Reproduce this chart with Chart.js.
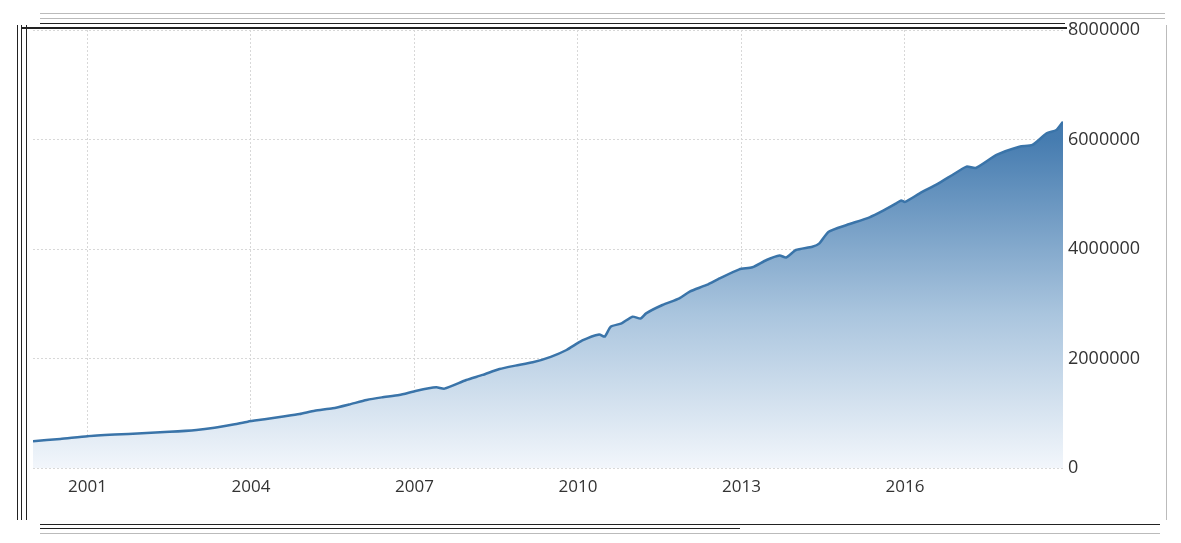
<!DOCTYPE html>
<html>
<head>
<meta charset="utf-8">
<script src="https://cdn.jsdelivr.net/npm/chart.js@4"></script>
<style>
  html, body { margin: 0; padding: 0; background: #fff; }
  #wrap { position: relative; width: 1181px; height: 543px; overflow: hidden; }
  #chart { position: absolute; left: 0; top: 0; }
  .ln { position: absolute; background: #222; }
  .lt { position: absolute; background: #bbb; }
</style>
</head>
<body>
<div id="wrap">
  <canvas id="chart" width="1181" height="543"></canvas>
  <!-- frame lines -->
  <div class="lt" style="left:40px;top:13px;width:1125px;height:1px"></div>
  <div class="lt" style="left:40px;top:18px;width:1125px;height:1px"></div>
  <div class="ln" style="left:40px;top:23px;width:1025px;height:1px"></div>
  <div class="ln" style="left:22px;top:27px;width:1045px;height:2px"></div>
  <div class="ln" style="left:17px;top:25px;width:1px;height:495px"></div>
  <div class="ln" style="left:21px;top:25px;width:1px;height:495px"></div>
  <div class="ln" style="left:26px;top:25px;width:1px;height:495px"></div>
  <div class="lt" style="left:1166px;top:25px;width:1px;height:495px"></div>
  <div class="ln" style="left:40px;top:524px;width:1120px;height:1px"></div>
  <div class="ln" style="left:40px;top:528px;width:700px;height:1px"></div>
  <div class="lt" style="left:40px;top:533px;width:1120px;height:1px"></div>
</div>
<script>
// decimal years and values
const years = [
  2000.0, 2000.5, 2001.0, 2001.5, 2002.0, 2002.5, 2003.0, 2003.33, 2003.7, 2003.94,
  2004.25, 2004.56, 2004.89, 2005.17, 2005.5, 2005.8, 2006.12, 2006.4, 2006.72, 2007.04,
  2007.4, 2007.55, 2007.95, 2008.25, 2008.56, 2008.85, 2009.17, 2009.5, 2009.79, 2010.08,
  2010.39, 2010.49, 2010.6, 2010.8, 2011.0, 2011.15, 2011.25, 2011.55, 2011.86, 2012.05,
  2012.36, 2012.6, 2012.96, 2013.2, 2013.46, 2013.7, 2013.82, 2014.0, 2014.3, 2014.43,
  2014.6, 2014.93, 2015.35, 2015.6, 2015.84, 2015.93, 2016.0, 2016.27, 2016.6, 2016.87,
  2017.13, 2017.3, 2017.68, 2018.1, 2018.34, 2018.6, 2018.78, 2018.9
];
const values = [
  490000, 530000, 580000, 610000, 635000, 660000, 695000, 736000, 800000, 846000,
  890000, 937000, 986000, 1047000, 1090000, 1160000, 1242000, 1290000, 1333000, 1412000,
  1474000, 1450000, 1607000, 1700000, 1808000, 1870000, 1930000, 2030000, 2155000, 2330000,
  2440000, 2400000, 2580000, 2642000, 2764000, 2730000, 2825000, 2977000, 3099000, 3221000,
  3343000, 3464000, 3629000, 3666000, 3799000, 3880000, 3845000, 3982000, 4042000, 4104000,
  4316000, 4438000, 4579000, 4700000, 4834000, 4885000, 4860000, 5017000, 5190000, 5352000,
  5504000, 5480000, 5717000, 5869000, 5900000, 6113000, 6174000, 6326000
];
const xTicks = [2001, 2004, 2007, 2010, 2013, 2016];
const yTicks = [0, 2000000, 4000000, 6000000, 8000000];

const points = years.map((y, i) => ({ x: y, y: values[i] }));

function areaGradient(context) {
  const chart = context.chart;
  const area = chart.chartArea;
  if (!area) return 'rgba(70,125,175,0.5)';
  const g = chart.ctx.createLinearGradient(0, area.top, 0, area.bottom);
  g.addColorStop(0, 'rgb(52,108,163)');
  g.addColorStop(0.25, 'rgb(70,124,176)');
  g.addColorStop(0.65, 'rgb(170,197,222)');
  g.addColorStop(1, 'rgb(242,246,251)');
  return g;
}

new Chart(document.getElementById('chart'), {
  type: 'line',
  data: {
    datasets: [{
      data: points,
      borderColor: '#3a74a9',
      borderWidth: 2.5,
      backgroundColor: areaGradient,
      fill: 'origin',
      pointRadius: 0,
      tension: 0.2
    }]
  },
  options: {
    responsive: false,
    animation: false,
    layout: { padding: { left: 33, top: 30, right: 0, bottom: 0 } },
    plugins: { legend: { display: false }, tooltip: { enabled: false } },
    scales: {
      x: {
        type: 'linear',
        min: 2000,
        max: 2018.9,
        afterBuildTicks: scale => { scale.ticks = xTicks.map(v => ({ value: v })); },
        afterFit: scale => { scale.height = 75; },
        grid: { color: '#d8d8d8', drawTicks: false },
        border: { display: false, dash: [2, 2] },
        ticks: {
          padding: 9,
          color: '#333',
          font: { family: 'Open Sans', size: 17 },
          callback: v => String(v)
        }
      },
      y: {
        position: 'right',
        min: 0,
        max: 8000000,
        afterBuildTicks: scale => { scale.ticks = yTicks.map(v => ({ value: v })); },
        afterFit: scale => { scale.width = 118; },
        grid: { color: '#d8d8d8', drawTicks: false },
        border: { display: false, dash: [2, 2] },
        ticks: {
          padding: 5,
          color: '#333',
          font: { family: 'Open Sans', size: 18 },
          callback: v => String(v)
        }
      }
    }
  }
});
</script>
</body>
</html>
